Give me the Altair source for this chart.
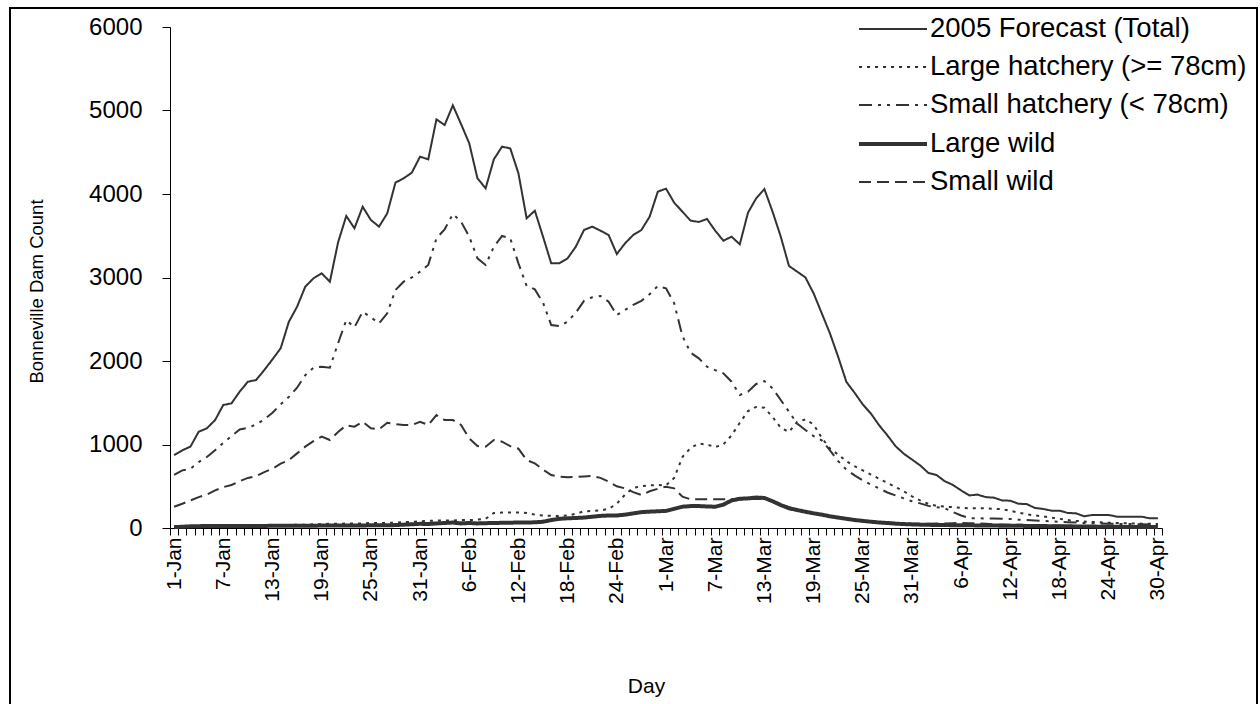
import json
import altair as alt
import pandas as pd

series_order = [
    "2005 Forecast (Total)",
    "Large hatchery (>= 78cm)",
    "Small hatchery (< 78cm)",
    "Large wild",
    "Small wild",
]

tick_labels = ["1-Jan", "7-Jan", "13-Jan", "19-Jan", "25-Jan", "31-Jan", "6-Feb",
               "12-Feb", "18-Feb", "24-Feb", "1-Mar", "7-Mar", "13-Mar", "19-Mar",
               "25-Mar", "31-Mar", "6-Apr", "12-Apr", "18-Apr", "24-Apr", "30-Apr"]

total = [
    874, 930, 975, 1153, 1194, 1293, 1473, 1493, 1633, 1752,
    1772, 1892, 2020, 2152, 2470, 2650, 2890, 2990, 3050, 2950,
    3420, 3737, 3589, 3848, 3689, 3609, 3769, 4136, 4188, 4256,
    4447, 4415, 4894, 4826, 5062, 4838, 4607, 4188, 4068, 4415,
    4567, 4547, 4248, 3709, 3800, 3489, 3170, 3170, 3230, 3369,
    3569, 3609, 3561, 3509, 3281, 3409, 3509, 3569, 3728, 4028,
    4064, 3896, 3788, 3681, 3665, 3701, 3561, 3441, 3489, 3397,
    3776, 3948, 4060, 3788, 3489, 3138, 3070, 3002, 2811, 2571,
    2330, 2050, 1750, 1620, 1480, 1370, 1230, 1110, 980, 890,
    820, 750, 660, 635, 560, 515, 450, 390, 400, 370,
    363, 330, 327, 290, 287, 240, 228, 208, 208, 180,
    176, 140, 156, 156, 156, 136, 136, 136, 136, 116,
    116,
]

large_hatchery = [
    10, 10, 15, 15, 20, 20, 20, 25, 25, 25,
    30, 30, 30, 35, 35, 40, 40, 45, 45, 50,
    50, 55, 55, 55, 60, 60, 60, 65, 70, 75,
    80, 85, 90, 90, 90, 95, 95, 100, 110, 180,
    185, 185, 185, 180, 160, 150, 145, 145, 150, 170,
    200, 205, 210, 230, 290, 400, 480, 500, 510, 515,
    510, 600, 850, 960, 1010, 1000, 970, 1000, 1110, 1260,
    1400, 1450, 1440, 1330, 1200, 1150, 1270, 1300, 1240, 1080,
    950, 880, 800, 740, 690, 640, 590, 540, 490, 440,
    380, 330, 290, 265, 255, 250, 240, 236, 236, 236,
    230, 225, 205, 185, 165, 150, 140, 125, 110, 95,
    85, 78, 72, 68, 64, 60, 57, 55, 52, 50,
    48,
]

small_hatchery = [
    635, 690, 710, 790, 850, 930, 1020, 1100, 1180, 1200,
    1240, 1300, 1380, 1480, 1570, 1680, 1830, 1920, 1932, 1920,
    2212, 2491, 2403, 2590, 2523, 2451, 2571, 2850, 2950, 3000,
    3070, 3150, 3470, 3577, 3760, 3669, 3489, 3230, 3150, 3369,
    3497, 3469, 3170, 2900, 2858, 2700, 2431, 2419, 2471, 2580,
    2720, 2763, 2779, 2711, 2551, 2611, 2671, 2720, 2800, 2898,
    2870, 2691, 2300, 2100, 2032, 1932, 1890, 1853, 1752, 1593,
    1633, 1725, 1760, 1673, 1533, 1393, 1250, 1174, 1100, 1050,
    930, 800, 700, 630, 570, 520, 475, 425, 390, 355,
    320, 295, 265, 250, 236, 190, 150, 118, 116, 115,
    115, 112, 108, 100, 95, 90, 85, 80, 75, 70,
    65, 60, 58, 55, 52, 50, 48, 46, 44, 42,
    40,
]

large_wild = [
    10, 15, 20, 22, 24, 25, 25, 25, 25, 25,
    25, 25, 26, 26, 27, 27, 28, 28, 29, 29,
    30, 30, 31, 31, 32, 32, 33, 35, 40, 45,
    50, 48, 55, 60, 65, 55, 60, 55, 58, 60,
    62, 64, 65, 66, 68, 75, 95, 110, 116, 120,
    125, 135, 145, 150, 150, 160, 175, 190, 196, 200,
    205, 230, 255, 262, 263, 258, 255, 280, 330, 350,
    355, 365, 360, 320, 275, 236, 215, 195, 176, 160,
    140, 125, 110, 96, 85, 75, 66, 60, 52, 47,
    43, 40, 38, 36, 35, 34, 33, 32, 31, 30,
    29, 28, 27, 26, 25, 24, 23, 22, 21, 20,
    19, 18, 17, 16, 15, 14, 13, 12, 12, 11,
    11,
]

small_wild = [
    255, 290, 330, 370, 400, 450, 490, 515, 560, 600,
    620, 670, 710, 770, 814, 894, 974, 1040, 1094, 1054,
    1150, 1230, 1214, 1273, 1194, 1182, 1261, 1245, 1234, 1234,
    1273, 1234, 1353, 1293, 1293, 1234, 1074, 982, 974, 1054,
    1034, 980, 950, 814, 774, 700, 635, 615, 607, 612,
    618, 623, 600, 555, 500, 475, 430, 395, 440, 470,
    495, 475, 375, 343, 343, 343, 343, 343, 343, 343,
    345, 350, 345, 320, 285, 250, 220, 195, 175, 160,
    140, 125, 110, 95, 85, 78, 70, 65, 60, 55,
    52, 50, 50, 55, 55, 58, 60, 58, 55, 50,
    45, 42, 40, 38, 35, 33, 30, 30, 28, 27,
    25, 24, 23, 22, 21, 20, 20, 19, 18, 17,
    16,
]

series_values = [total, large_hatchery, small_hatchery, large_wild, small_wild]
dash_range = [[1, 0], [3, 5], [13, 6, 3, 6, 3, 6], [1, 0], [12, 6]]
width_range = [2, 2, 2, 4, 2]

rows = []
for name, vals in zip(series_order, series_values):
    for d, v in enumerate(vals):
        rows.append({"day": d, "count": v, "series": name})
df = pd.DataFrame(rows)

FONT = "Liberation Sans"
n_days = len(total)
tick_vals = [i - 0.5 for i in range(n_days + 1)]
label_expr = (
    "(datum.value + 0.5) % 6 == 0 ? "
    + json.dumps(tick_labels)
    + "[(datum.value + 0.5) / 6] : ''"
)

legend = alt.Legend(
    title=None,
    orient="none",
    legendX=704,
    legendY=-16,
    symbolType="M-2,0L2,0",
    symbolSize=1156,
    symbolStrokeColor="#333333",
    symbolFillColor="transparent",
    labelFont=FONT,
    labelFontSize=27.5,
    labelColor="black",
    labelLimit=500,
    labelOffset=18,
    rowPadding=6,
    labelExpr="datum.label == '2005 Forecast (Total)' ? '\u2002\u20092005 Forecast (Total)' : datum.label",
)

lines = alt.Chart(df).mark_line(color="#333333").encode(
    x=alt.X(
        "day:Q",
        scale=alt.Scale(domain=[-0.5, n_days - 0.5], nice=False, zero=False),
        axis=alt.Axis(
            values=tick_vals,
            labelExpr=label_expr,
            labelAngle=270,
            labelOffset=4.1,
            labelPadding=2,
            labelOverlap=False,
            labelFlush=False,
            labelFont=FONT,
            labelFontSize=21,
            labelColor="black",
            tickSize=7,
            tickColor="black",
            domainColor="black",
            grid=False,
            title="Day",
            titleFont=FONT,
            titleFontSize=21,
            titleFontWeight="normal",
            titleColor="black",
            titleX=476,
            titleY=164,
            titleBaseline="alphabetic",
        ),
    ),
    y=alt.Y(
        "count:Q",
        scale=alt.Scale(domain=[0, 6000], nice=False),
        axis=alt.Axis(
            values=[0, 1000, 2000, 3000, 4000, 5000, 6000],
            format="d",
            labelFont=FONT,
            labelFontSize=24,
            labelColor="black",
            labelPadding=20,
            tickSize=8,
            tickColor="black",
            domainColor="black",
            grid=False,
            title="Bonneville Dam Count",
            titleFont=FONT,
            titleFontSize=18.5,
            titleFontWeight="normal",
            titleColor="black",
            titleX=-124,
            titleY=264,
        ),
    ),
    strokeDash=alt.StrokeDash(
        "series:N",
        scale=alt.Scale(domain=series_order, range=dash_range),
        legend=legend,
    ),
    strokeWidth=alt.StrokeWidth(
        "series:N",
        scale=alt.Scale(type="ordinal", domain=series_order, range=width_range),
        legend=legend,
    ),
    detail="series:N",
)

frame = alt.Chart(pd.DataFrame({"k": [0]})).mark_rect(
    filled=False, stroke="black", strokeWidth=2
).encode(
    x=alt.value(-160), x2=alt.value(1087), y=alt.value(-19), y2=alt.value(700)
)

chart = alt.layer(lines, frame).properties(
    width=992,
    height=501,
    autosize=alt.AutoSizeParams(type="none"),
    padding={"left": 170, "top": 27, "right": 98, "bottom": 176},
    background="white",
).configure_view(strokeWidth=0)

chart.save("out.html", embed_options={"renderer": "svg", "actions": False})
